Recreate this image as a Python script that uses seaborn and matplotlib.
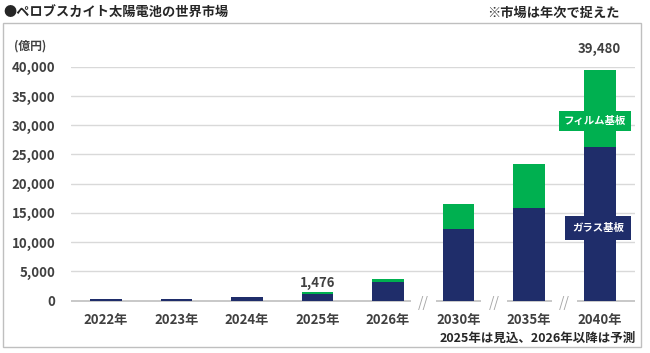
import matplotlib
matplotlib.use("Agg")
import matplotlib.pyplot as plt
from matplotlib.patches import Rectangle
import seaborn as sns

# データ（億円）
years = ['2022年', '2023年', '2024年', '2025年', '2026年', '2030年', '2035年', '2040年']
glass = [280, 300, 520, 1100, 3100, 12300, 15900, 26200]
film = [0, 0, 0, 376, 660, 4300, 7400, 13280]
total = [g + f for g, f in zip(glass, film)]
yticks = [0, 5000, 10000, 15000, 20000, 25000, 30000, 35000, 40000]

navy = '#1f2d6a'
green = '#00b050'
dark = '#404040'

sns.set_theme(style='white')
plt.rcParams['font.family'] = ['Noto Sans CJK JP', 'DejaVu Sans']

fig = plt.figure(figsize=(6.5, 3.53), dpi=100)
ax = fig.add_axes([0.1088, 0.1487, 0.868, 0.662])

# 積み上げ：合計（緑）を先に描き、その上にガラス基板（紺）
sns.barplot(x=years, y=total, color=green, saturation=1, width=0.45, ax=ax,
            linewidth=0, zorder=3)
sns.barplot(x=years, y=glass, color=navy, saturation=1, width=0.45, ax=ax,
            linewidth=0, zorder=4)

ax.set_xlim(-0.5, len(years) - 0.5)
ax.set_ylim(0, 40000)
ax.set_yticks(yticks)
ax.set_yticklabels([f'{v:,}' for v in yticks])
for y in yticks[1:]:
    ax.axhline(y, color='#d9d9d9', lw=1, zorder=1)

# 0の線（省略記号の部分は切る）
segs = [(-0.5, 4.32), (4.68, 5.32), (5.68, 6.32), (6.68, 7.5)]
for a, b in segs:
    ax.hlines(0, a, b, color='#bfbfbf', lw=1.2, zorder=2, clip_on=False)
for xb in [4.5, 5.5, 6.5]:
    ax.text(xb, -500, '//', ha='center', va='center', fontsize=10, color='#a6a6a6',
            style='italic', clip_on=False)

for s in ax.spines.values():
    s.set_visible(False)
ax.tick_params(axis='both', length=0, colors=dark)
ax.tick_params(axis='y', pad=11)
ax.tick_params(axis='x', pad=9)
for lab in ax.get_yticklabels():
    lab.set_fontsize(9.5)
    lab.set_fontweight('bold')
for lab in ax.get_xticklabels():
    lab.set_fontsize(9.5)
    lab.set_fontweight('bold')

# 数値ラベル
ax.text(7, 43100, f'{total[7]:,}', ha='center', va='center', fontsize=9.5,
        fontweight='bold', color=dark, clip_on=False)
ax.text(3, 3000, f'{total[3]:,}', ha='center', va='center', fontsize=9.5,
        fontweight='bold', color=dark)

# 系列ラベル
ax.text(6.93, 30740, 'フィルム基板', ha='center', va='center', fontsize=7.5,
        fontweight='bold', color='white', zorder=6,
        bbox=dict(boxstyle='square,pad=0.45', fc=green, ec='none'))
ax.text(6.98, 12400, 'ガラス基板', ha='center', va='center', fontsize=7.5,
        fontweight='bold', color='white', zorder=6,
        bbox=dict(boxstyle='square,pad=0.7', fc=navy, ec='none'))

# 枠とテキスト
fig.patches.append(Rectangle((3 / 650, 6 / 353), 638 / 650, 324 / 353,
                             transform=fig.transFigure, fill=False,
                             ec='#bfbfbf', lw=1))
fig.text(3 / 650, 1 - 13 / 353, '●ペロブスカイト太陽電池の世界市場', ha='left', va='center',
         fontsize=9.5, fontweight='bold', color='#262626')
fig.text(620 / 650, 1 - 13 / 353, '※市場は年次で捉えた', ha='right', va='center',
         fontsize=9.5, fontweight='bold', color='#262626')
fig.text(14 / 650, 1 - 46 / 353, '(億円)', ha='left', va='center',
         fontsize=8.5, fontweight='bold', color=dark)
fig.text(636 / 650, 1 - 338 / 353, '2025年は見込、2026年以降は予測', ha='right', va='center',
         fontsize=9, fontweight='bold', color='#262626')

fig.savefig('out.png', dpi=100)
